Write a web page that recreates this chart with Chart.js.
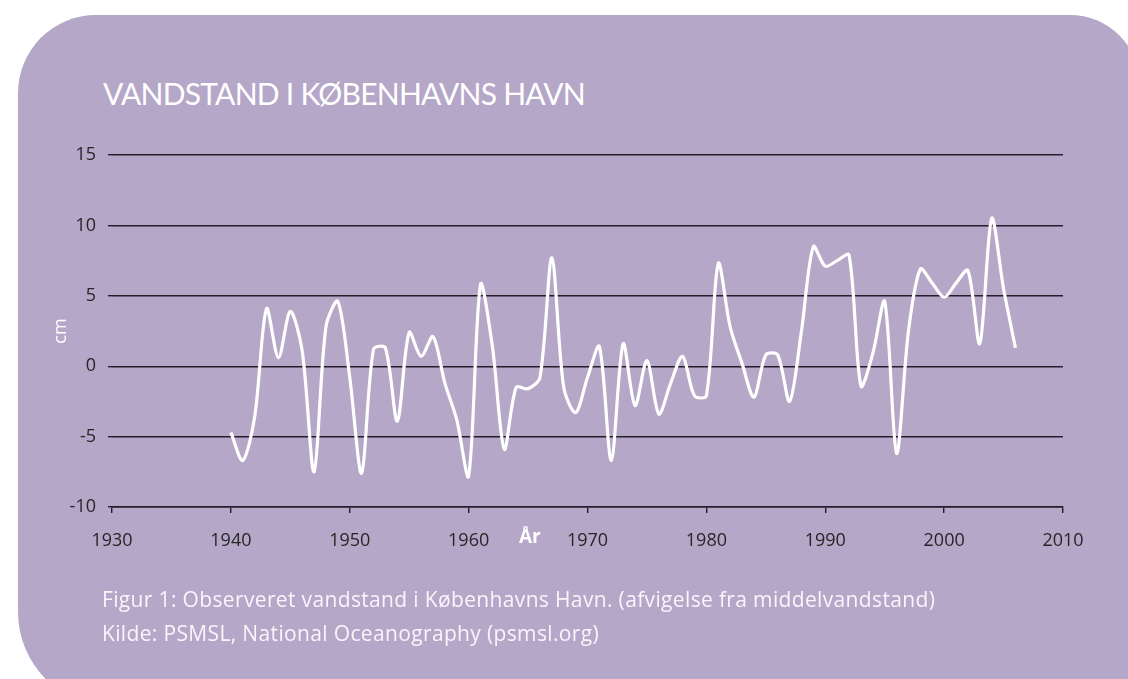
<!DOCTYPE html>
<html lang="da">
<head>
<meta charset="utf-8">
<script src="https://cdn.jsdelivr.net/npm/chart.js@4.4.1/dist/chart.umd.min.js"></script>
<style>
  html, body { margin: 0; padding: 0; background: #ffffff; overflow: hidden; }
  body { width: 1128px; height: 679px; position: relative; font-family: "Open Sans", sans-serif; }
  .panel {
    position: absolute; left: 18px; top: 15px; width: 1122px; height: 692px;
    background: #b5a7c8;
    border-radius: 78px 70px 0 95px;
  }
  h1 {
    position: absolute; left: 103px; top: 78px; margin: 0;
    font-family: Lato, "Open Sans", sans-serif;
    font-size: 30px; font-weight: 400; color: #ffffff; line-height: 1;
    letter-spacing: -0.75px;
  }
  .caption {
    position: absolute; left: 102px; top: 582px; margin: 0;
    font-size: 21px; letter-spacing: 0.35px; color: #f8f5fb; line-height: 34px;
  }
  .axis-name {
    position: absolute; left: 519px; top: 527px;
    font-size: 19px; font-weight: 700; color: #ffffff; line-height: 1;
  }
  #chart-wrap { position: absolute; left: 0; top: 0; width: 1128px; height: 679px; }
</style>
</head>
<body>
<div class="panel"></div>
<h1>VANDSTAND I KØBENHAVNS HAVN</h1>
<div id="chart-wrap"><canvas id="waterChart" width="1128" height="679"></canvas></div>
<div class="axis-name">År</div>
<div class="caption">
  Figur 1: Observeret vandstand i Københavns Havn. (afvigelse fra middelvandstand)<br>
  Kilde: PSMSL, National Oceanography (psmsl.org)
</div>
<script>
// --- DATA ---
const years = [
  1940, 1941, 1942, 1943, 1944, 1945, 1946, 1947, 1948, 1949,
  1950, 1951, 1952, 1953, 1954, 1955, 1956, 1957, 1958, 1959,
  1960, 1961, 1962, 1963, 1964, 1965, 1966, 1967, 1968, 1969,
  1970, 1971, 1972, 1973, 1974, 1975, 1976, 1977, 1978, 1979,
  1980, 1981, 1982, 1983, 1984, 1985, 1986, 1987, 1988, 1989,
  1990, 1991, 1992, 1993, 1994, 1995, 1996, 1997, 1998, 1999,
  2000, 2001, 2002, 2003, 2004, 2005, 2006
];
const waterLevel = [
  -4.7, -6.7, -3.6, 4.1, 0.6, 3.9, 1.1, -7.5, 2.8, 4.6,
  -0.8, -7.6, 1.2, 1.3, -3.9, 2.4, 0.7, 2.1, -1.2, -3.8,
  -7.8, 5.8, 1.4, -5.9, -1.5, -1.6, -0.8, 7.7, -1.5, -3.3,
  -0.8, 1.4, -6.7, 1.6, -2.8, 0.4, -3.4, -1.2, 0.7, -2.1,
  -2.1, 7.3, 2.8, 0.2, -2.2, 0.8, 0.8, -2.5, 2.5, 8.5,
  7.1, 7.5, 7.9, -1.4, 0.9, 4.6, -6.2, 2.5, 6.9, 5.9,
  4.9, 5.9, 6.8, 1.6, 10.5, 5.5, 1.3
];
const xTicks = [1930, 1940, 1950, 1960, 1970, 1980, 1990, 2000, 2010];
const yTicks = [-10, -5, 0, 5, 10, 15];

const tickFont = { family: '"Open Sans", sans-serif', size: 18 };
const lineColor = '#231e2a';

const points = years.map((year, i) => ({ x: year, y: waterLevel[i] }));

new Chart(document.getElementById('waterChart'), {
  type: 'line',
  data: {
    datasets: [{
      label: 'Vandstand (cm)',
      data: points,
      borderColor: '#ffffff',
      borderWidth: 3.2,
      pointRadius: 0,
      tension: 0.3,
      fill: false
    }]
  },
  options: {
    responsive: false,
    animation: false,
    events: [],
    layout: { padding: { left: 40, top: 155, right: 65, bottom: 112 } },
    plugins: { legend: { display: false }, tooltip: { enabled: false } },
    scales: {
      x: {
        type: 'linear',
        min: xTicks[0],
        max: xTicks[xTicks.length - 1],
        afterBuildTicks: (scale) => { scale.ticks = xTicks.map(v => ({ value: v })); },
        afterFit: (scale) => { scale.height = 60; },
        ticks: { color: '#262626', font: tickFont, padding: 17, autoSkip: false, maxRotation: 0,
          callback: (v) => String(v) },
        grid: { drawOnChartArea: false, drawTicks: true, tickLength: 6, color: lineColor, lineWidth: 1.4 },
        border: { display: true, color: lineColor, width: 1.4 }
      },
      y: {
        min: yTicks[0],
        max: yTicks[yTicks.length - 1],
        afterBuildTicks: (scale) => { scale.ticks = yTicks.map(v => ({ value: v })); },
        afterFit: (scale) => { scale.width = 72; },
        ticks: { color: '#262626', font: tickFont, padding: 12 },
        grid: { color: lineColor, lineWidth: 1.4, drawTicks: true, tickLength: 4 },
        border: { display: false },
        title: {
          display: true, text: 'cm', color: '#ffffff',
          font: { family: '"Open Sans", sans-serif', size: 18 },
          padding: { top: 10, bottom: 0 }
        }
      }
    }
  }
});
</script>
</body>
</html>
